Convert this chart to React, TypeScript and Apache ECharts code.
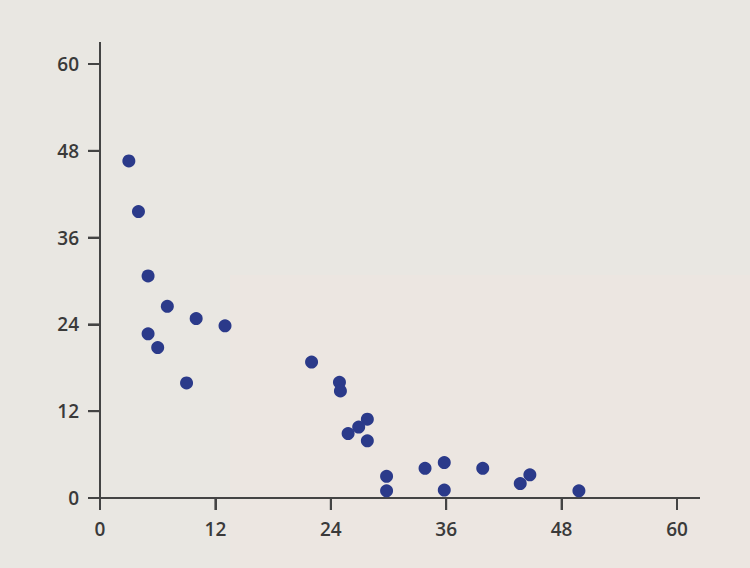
import React, { useEffect, useRef } from "react";
import * as echarts from "echarts";

const xValues = [3, 4, 5, 7, 10, 13, 5, 6, 9, 22, 24.9, 25, 27.8, 26.9, 25.8, 27.8, 29.8, 29.8, 33.8, 35.8, 35.8, 39.8, 43.7, 44.7, 49.8];
const yValues = [46.6, 39.6, 30.7, 26.5, 24.8, 23.8, 22.7, 20.8, 15.9, 18.8, 16.0, 14.8, 10.9, 9.8, 8.9, 7.9, 3.0, 1.0, 4.1, 4.9, 1.1, 4.1, 2.0, 3.2, 1.0];
const tickValues = [0, 12, 24, 36, 48, 60];
const axisMin = 0;
const axisMax = 60;
const axisInterval = 12;

export default function App() {
  const ref = useRef<HTMLDivElement>(null);
  useEffect(() => {
    if (!ref.current) return;
    const chart = echarts.init(ref.current, null, { renderer: "svg" });
    const data = xValues.map((x, i) => [x, yValues[i]]);
    const axisColor = "#444444";
    const tickLen = 12;
    const label = {
      color: "#3a3a3a",
      fontSize: 19,
      fontWeight: 600,
      fontFamily: "Open Sans, Noto Sans, sans-serif",
      margin: 21,
    };
    const axisBase = {
      type: "value",
      min: axisMin,
      max: axisMax,
      interval: axisInterval,
      splitLine: { show: false },
      axisLine: { show: true, onZero: false, lineStyle: { color: axisColor, width: 2 } },
      axisTick: { show: true, length: tickLen, lineStyle: { color: axisColor, width: 2 } },
      axisLabel: label,
    };
    chart.setOption({
      animation: false,
      backgroundColor: "#e9e7e2",
      graphic: [
        {
          type: "rect",
          silent: true,
          z: -10,
          shape: { x: 230, y: 275, width: 520, height: 293 },
          style: { fill: "#ece6e1" },
        },
        {
          type: "line",
          silent: true,
          shape: { x1: 676, y1: 498, x2: 700, y2: 498 },
          style: { stroke: axisColor, lineWidth: 2 },
        },
        {
          type: "line",
          silent: true,
          shape: { x1: 100, y1: 65, x2: 100, y2: 42 },
          style: { stroke: axisColor, lineWidth: 2 },
        },
      ],
      grid: { left: 100, right: 73, top: 64, bottom: 70, containLabel: false },
      xAxis: axisBase,
      yAxis: axisBase,
      series: [
        {
          type: "scatter",
          silent: true,
          clip: false,
          z: 1,
          data: tickValues.map((v) => [v, axisMin]),
          symbol: "rect",
          symbolSize: [2, tickLen],
          symbolOffset: [0, tickLen / 2],
          itemStyle: { color: axisColor, opacity: 1 },
        },
        {
          type: "scatter",
          silent: true,
          clip: false,
          z: 1,
          data: tickValues.map((v) => [axisMin, v]),
          symbol: "rect",
          symbolSize: [tickLen, 2],
          symbolOffset: [-tickLen / 2, 0],
          itemStyle: { color: axisColor, opacity: 1 },
        },
        {
          type: "scatter",
          z: 3,
          data,
          symbol: "circle",
          symbolSize: 13,
          itemStyle: { color: "#2b3a8a", opacity: 1 },
        },
      ],
    });
    return () => chart.dispose();
  }, []);
  return <div ref={ref} style={{ position: "fixed", left: 0, top: 0, width: 750, height: 568 }} />;
}
